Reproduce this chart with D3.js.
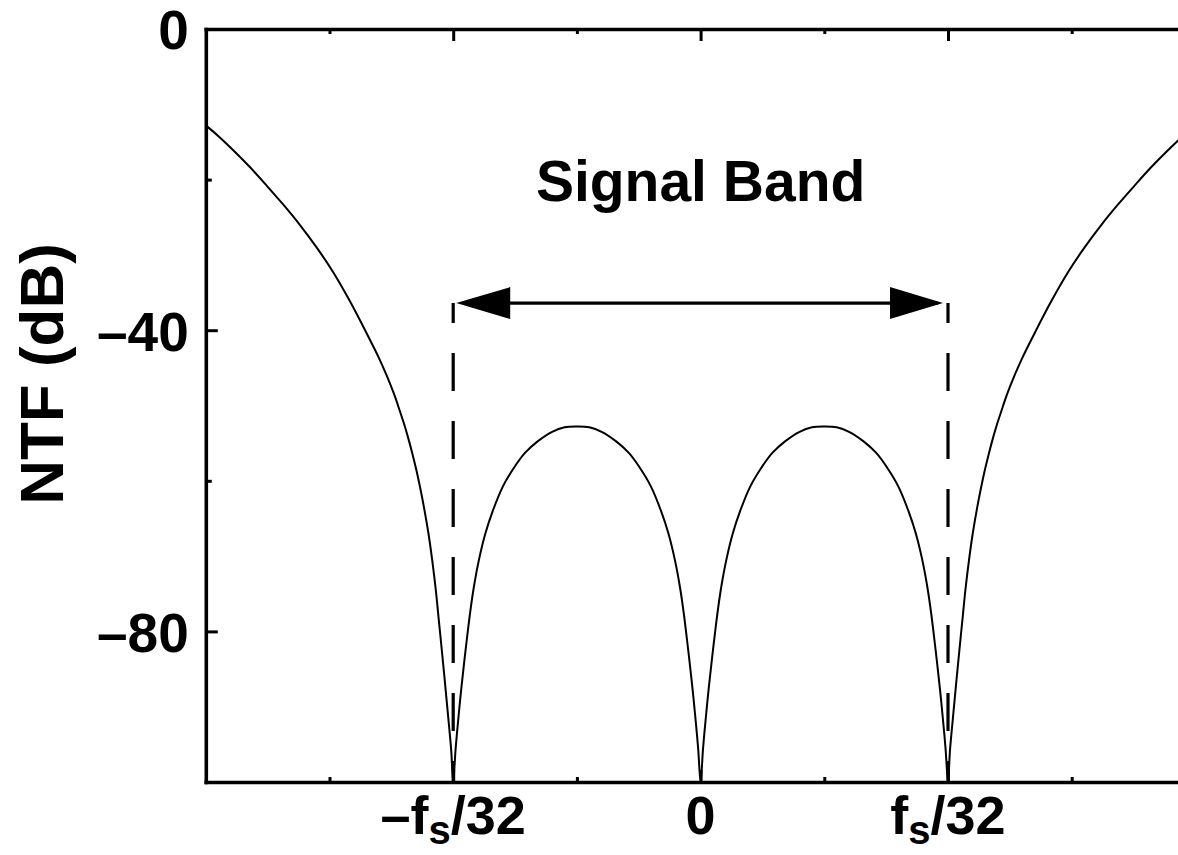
<!DOCTYPE html>
<html>
<head>
<meta charset="utf-8">
<script src="https://cdn.jsdelivr.net/npm/d3@7"></script>
<style>
  body { margin: 0; background: white; }
  svg { display: block; font-family: "Liberation Sans", Arial, Helvetica, sans-serif; font-weight: bold; }
</style>
</head>
<body>
<div id="chart"></div>
<script>
// frequency in units of fs/32, NTF magnitude in dB
const freq = [
  // outside the band, left
  -2.000, -1.950, -1.889, -1.820, -1.754, -1.690, -1.620, -1.550, -1.485, -1.420,
  -1.350, -1.300, -1.269, -1.240, -1.215, -1.200, -1.182, -1.165, -1.148, -1.135,
  -1.120, -1.100, -1.085, -1.070, -1.060, -1.046, -1.035, -1.027, -1.017, -1.008, -1.000,
  // left lobe
  -0.990, -0.977, -0.966, -0.950, -0.932, -0.916, -0.896, -0.870, -0.840, -0.800,
  -0.755, -0.710, -0.660, -0.600, -0.550, -0.500, -0.450, -0.400, -0.340, -0.290,
  -0.245, -0.200, -0.160, -0.130, -0.104, -0.084, -0.068, -0.050, -0.034, -0.023, -0.010, 0.000,
  // right lobe
  0.010, 0.023, 0.034, 0.050, 0.068, 0.084, 0.104, 0.130, 0.160, 0.200,
  0.245, 0.290, 0.340, 0.400, 0.450, 0.500, 0.550, 0.600, 0.660, 0.710,
  0.755, 0.800, 0.840, 0.870, 0.896, 0.916, 0.932, 0.950, 0.966, 0.977, 0.990, 1.000,
  // outside the band, right
  1.008, 1.017, 1.027, 1.035, 1.046, 1.060, 1.070, 1.085, 1.100, 1.120,
  1.135, 1.148, 1.165, 1.182, 1.200, 1.215, 1.240, 1.269, 1.300, 1.350,
  1.420, 1.485, 1.550, 1.620, 1.690, 1.754, 1.820, 1.889, 1.950, 2.000];
const ntfDb = [
  -12.8, -14.2, -16.1, -18.4, -20.8, -23.2, -26.0, -29.1, -32.3, -36.0,
  -40.4, -43.7, -46.0, -48.4, -50.8, -52.3, -54.3, -56.4, -58.7, -60.7,
  -63.2, -67.0, -70.5, -74.6, -77.9, -82.5, -86.2, -89.0, -92.5, -95.8, -100,
  -95.5, -90.8, -87.2, -82.5, -77.6, -74.0, -70.5, -67.0, -64.0, -60.8,
  -58.3, -56.3, -54.8, -53.5, -52.9, -52.8, -52.9, -53.5, -54.8, -56.3,
  -58.3, -60.8, -64.0, -67.0, -70.5, -74.0, -77.6, -82.5, -87.2, -90.8, -95.5, -100,
  -95.5, -90.8, -87.2, -82.5, -77.6, -74.0, -70.5, -67.0, -64.0, -60.8,
  -58.3, -56.3, -54.8, -53.5, -52.9, -52.8, -52.9, -53.5, -54.8, -56.3,
  -58.3, -60.8, -64.0, -67.0, -70.5, -74.0, -77.6, -82.5, -87.2, -90.8, -95.5, -100,
  -95.8, -92.5, -89.0, -86.2, -82.5, -77.9, -74.6, -70.5, -67.0, -63.2,
  -60.7, -58.7, -56.4, -54.3, -52.3, -50.8, -48.4, -46.0, -43.7, -40.4,
  -36.0, -32.3, -29.1, -26.0, -23.2, -20.8, -18.4, -16.1, -14.2, -12.8];

const yMajor = [0, -40, -80];
const yMinor = [-20, -60, -100];
const xMajor = [-1, 0, 1];
const xMinor = [-1.5, -0.5, 0.5, 1.5];
const xLabels = [
  { v: -1, pre: "–f", sub: "s", post: "/32" },
  { v: 0, pre: "0", sub: "", post: "" },
  { v: 1, pre: "f", sub: "s", post: "/32" }
];
const bandEdges = [-1, 1];
const bandArrowDb = -36.4;
const bandLabel = "Signal Band";
const yTitle = "NTF (dB)";

const w = 1178, h = 855;
const svg = d3.select("#chart").append("svg")
  .attr("width", w)
  .attr("height", h);

const x = d3.scaleLinear().domain([-2, 2]).range([205.8, 1195.4]);
const y = d3.scaleLinear().domain([-100, 0]).range([782, 29]);

svg.append("clipPath")
  .attr("id", "plot-clip")
  .append("rect")
  .attr("x", x(-2)).attr("y", y(0))
  .attr("width", x(2) - x(-2)).attr("height", y(-100) - y(0));

// curve
const data = freq.map((f, i) => ({ f: f, db: ntfDb[i] }));
svg.append("path")
  .datum(data)
  .attr("clip-path", "url(#plot-clip)")
  .attr("fill", "none")
  .attr("stroke", "black")
  .attr("stroke-width", 2)
  .attr("d", d3.line().x(d => x(d.f)).y(d => y(d.db)).curve(d3.curveCatmullRom.alpha(0.5)));

// signal band markers
svg.selectAll(".edge")
  .data(bandEdges)
  .enter()
  .append("line")
  .attr("class", "edge")
  .attr("x1", d => x(d)).attr("x2", d => x(d))
  .attr("y1", y(bandArrowDb)).attr("y2", y(-100))
  .attr("stroke", "black")
  .attr("stroke-width", 3.2)
  .attr("stroke-dasharray", "38,30")
  .attr("stroke-dashoffset", 18);

const ay = y(bandArrowDb);
svg.append("line")
  .attr("x1", x(-1) + 10).attr("x2", x(1) - 10)
  .attr("y1", ay).attr("y2", ay)
  .attr("stroke", "black")
  .attr("stroke-width", 3.2);
svg.append("path")
  .attr("d", `M${x(-1) + 3},${ay} L${x(-1) + 57},${ay - 16} L${x(-1) + 57},${ay + 16} Z`)
  .attr("fill", "black");
svg.append("path")
  .attr("d", `M${x(1) - 5},${ay} L${x(1) - 58},${ay - 16} L${x(1) - 58},${ay + 16} Z`)
  .attr("fill", "black");

svg.append("text")
  .attr("x", x(0))
  .attr("y", 201)
  .attr("text-anchor", "middle")
  .style("font-size", "57px")
  .text(bandLabel);

// axes
function styleAxis(g) {
  g.select(".domain").attr("stroke-width", 3.6).attr("stroke-linecap", "square");
  g.selectAll(".tick line").attr("stroke-width", 3);
}

const leftAxis = svg.append("g")
  .attr("transform", `translate(${x(-2)},0)`)
  .call(d3.axisLeft(y).tickValues(yMajor).tickSizeInner(-12).tickSizeOuter(0).tickPadding(17)
    .tickFormat(d => d === 0 ? "0" : "–" + Math.abs(d)));
styleAxis(leftAxis);
leftAxis.selectAll("text")
  .attr("fill", "black")
  .attr("dy", "0.36em")
  .style("font-size", "55px")
  .style("font-family", "'Liberation Sans', Arial, sans-serif")
  .style("font-weight", "bold");

svg.append("g")
  .attr("transform", `translate(${x(-2)},0)`)
  .call(d3.axisLeft(y).tickValues(yMinor).tickSize(-6).tickFormat(""))
  .call(g => g.select(".domain").remove())
  .call(g => g.selectAll("line").attr("stroke-width", 3));

const topAxis = svg.append("g")
  .attr("transform", `translate(0,${y(0)})`)
  .call(d3.axisTop(x).tickValues(xMajor).tickSizeInner(-12).tickSizeOuter(0).tickFormat(""));
styleAxis(topAxis);
svg.append("g")
  .attr("transform", `translate(0,${y(0)})`)
  .call(d3.axisTop(x).tickValues(xMinor).tickSize(-5).tickFormat(""))
  .call(g => g.select(".domain").remove())
  .call(g => g.selectAll("line").attr("stroke-width", 3));

const bottomAxis = svg.append("g")
  .attr("transform", `translate(0,${y(-100)})`)
  .call(d3.axisBottom(x).tickValues(xMajor).tickSizeInner(-12).tickSizeOuter(0).tickFormat(""));
styleAxis(bottomAxis);
svg.append("g")
  .attr("transform", `translate(0,${y(-100)})`)
  .call(d3.axisBottom(x).tickValues(xMinor).tickSize(-5).tickFormat(""))
  .call(g => g.select(".domain").remove())
  .call(g => g.selectAll("line").attr("stroke-width", 3));

// x tick labels with subscript
const xl = svg.selectAll(".xlabel")
  .data(xLabels)
  .enter()
  .append("text")
  .attr("class", "xlabel")
  .attr("x", d => x(d.v))
  .attr("y", 834)
  .attr("text-anchor", "middle")
  .style("font-size", "54px");
xl.append("tspan").text(d => d.pre);
xl.append("tspan").attr("dy", 10).style("font-size", "40px").text(d => d.sub);
xl.append("tspan").attr("dy", -10).text(d => d.post);

// y title
svg.append("text")
  .attr("transform", `translate(63,${374}) rotate(-90)`)
  .attr("text-anchor", "middle")
  .style("font-size", "62px")
  .text(yTitle);
</script>
</body>
</html>
